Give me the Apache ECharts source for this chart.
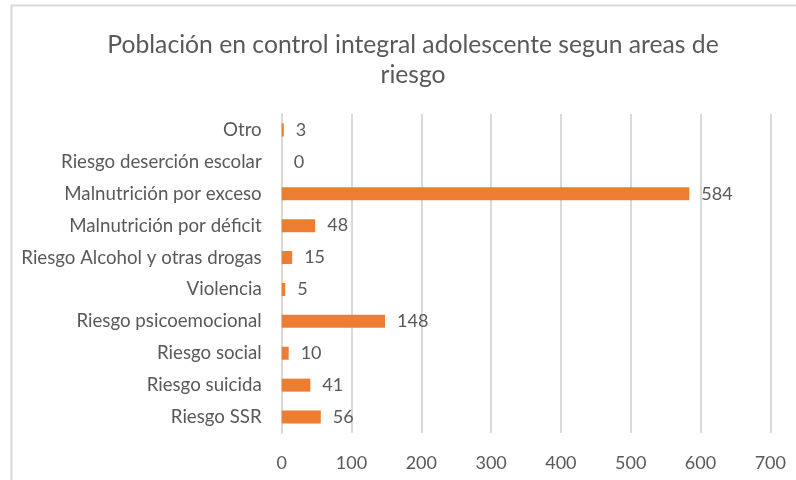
<!DOCTYPE html>
<html>
<head>
<meta charset="utf-8">
<script src="https://cdn.jsdelivr.net/npm/echarts@6/dist/echarts.min.js"></script>
<style>
  html, body { margin: 0; padding: 0; background: #ffffff; }
  #chart { width: 796px; height: 480px; }
</style>
</head>
<body>
<div id="chart"></div>
<script>
// Risk areas, listed bottom to top as they appear on the category axis
const categories = [
  'Riesgo SSR',
  'Riesgo suicida',
  'Riesgo social',
  'Riesgo psicoemocional',
  'Violencia',
  'Riesgo Alcohol y otras drogas',
  'Malnutrición por déficit',
  'Malnutrición por exceso',
  'Riesgo deserción escolar',
  'Otro'
];
const counts = [56, 41, 10, 148, 5, 15, 48, 584, 0, 3];
const xTicks = [0, 100, 200, 300, 400, 500, 600, 700];

const titleText = 'Población en control integral adolescente segun areas de\nriesgo';
const fontFamily = 'Lato, "Open Sans", sans-serif';
const textColor = '#595959';
const gridColor = '#d9d9d9';

const chart = echarts.init(document.getElementById('chart'), null, { renderer: 'canvas' });

chart.setOption({
  backgroundColor: '#ffffff',
  animation: false,
  graphic: [{
    type: 'rect',
    shape: { x: 11.5, y: 5.5, width: 820, height: 520 },
    style: { fill: 'none', stroke: gridColor, lineWidth: 2 },
    silent: true,
    z: -10
  }],
  title: {
    text: titleText,
    left: 408,
    top: 25,
    textAlign: 'center',
    textStyle: {
      fontFamily: fontFamily,
      fontSize: 24.7,
      fontWeight: 'normal',
      color: textColor,
      lineHeight: 30
    }
  },
  grid: {
    left: 281.7,
    right: 25.7,
    top: 114,
    bottom: 47,
    containLabel: false
  },
  xAxis: {
    type: 'value',
    min: xTicks[0],
    max: xTicks[xTicks.length - 1],
    interval: 100,
    axisLine: { show: false },
    axisTick: { show: false },
    splitLine: { show: true, lineStyle: { color: gridColor, width: 2 } },
    axisLabel: {
      color: textColor,
      fontFamily: fontFamily,
      fontSize: 18,
      margin: 21
    }
  },
  yAxis: {
    type: 'category',
    data: categories,
    axisLine: { show: true, lineStyle: { color: gridColor, width: 2 } },
    axisTick: { show: false },
    axisLabel: {
      color: textColor,
      fontFamily: fontFamily,
      fontSize: 18.7,
      margin: 20
    }
  },
  series: [{
    type: 'bar',
    data: counts,
    barWidth: 13,
    itemStyle: { color: '#ED7D31' },
    label: {
      show: true,
      position: 'right',
      distance: 12,
      color: textColor,
      fontFamily: fontFamily,
      fontSize: 18
    }
  }]
});
</script>
</body>
</html>
